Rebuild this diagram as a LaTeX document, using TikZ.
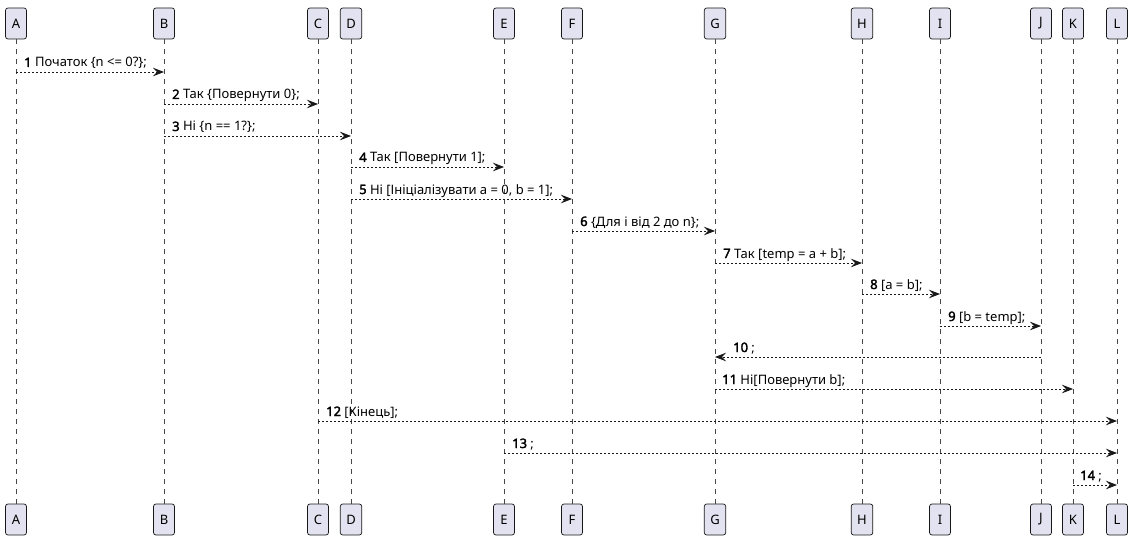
\documentclass[tikz,border=0pt]{standalone}
\usepackage{fontspec}
\setmainfont{Noto Sans}[BoldFont={Noto Sans}, BoldFeatures={FakeBold=2.2}]
\usetikzlibrary{arrows.meta}
\definecolor{pbox}{HTML}{E2E2F0}
\definecolor{pline}{HTML}{181818}
\tikzset{
  part/.style={draw=pline, line width=0.7pt, fill=pbox, rounded corners=2.5pt,
    minimum height=31pt, minimum width=21pt, inner xsep=6pt, inner ysep=0pt,
    font=\fontsize{13}{15}\selectfont, text=black},
  life/.style={draw=pline!80, line width=0.7pt, dash pattern=on 5pt off 5pt},
  msg/.style={draw=pline, line width=0.8pt, dash pattern=on 2pt off 2pt,
    -{Stealth[length=11pt,width=8.5pt,inset=4pt]}},
  lbl/.style={anchor=base west, inner sep=0pt, font=\fontsize{13}{15}\selectfont, text=black}
}
\begin{document}
\begin{tikzpicture}[x=1pt,y=-1pt]
\useasboundingbox (0,0) rectangle (1134,540);
\foreach \n/\x in {A/16,B/164,C/318,D/351,E/504,F/572,G/715,H/862,I/940,J/1041,K/1073,L/1117}{
  \node[part] (\n t) at (\x,23.5) {\n};
  \node[part] (\n b) at (\x,519.5) {\n};
  \draw[life] (\n t.south) -- (\n b.north);
}
\draw[msg] (At |- 0,72) -- (Bt |- 0,72);
\node[lbl] (l1) at (24,67) {\textbf{1} Початок \{n <= 0?\};};
\draw[msg] (Bt |- 0,104) -- (Ct |- 0,104);
\node[lbl] (l2) at (172,99) {\textbf{2} Так \{Повернути 0\};};
\draw[msg] (Bt |- 0,136) -- (Dt |- 0,136);
\node[lbl] (l3) at (172,131) {\textbf{3} Ні \{n == 1?\};};
\draw[msg] (Dt |- 0,167) -- (Et |- 0,167);
\node[lbl] (l4) at (359,162) {\textbf{4} Так [Повернути 1];};
\draw[msg] (Dt |- 0,199) -- (Ft |- 0,199);
\node[lbl] (l5) at (359,194) {\textbf{5} Ні [Ініціалізувати a = 0, b = 1];};
\draw[msg] (Ft |- 0,231) -- (Gt |- 0,231);
\node[lbl] (l6) at (580,226) {\textbf{6} \{Для і від 2 до n\};};
\draw[msg] (Gt |- 0,263) -- (Ht |- 0,263);
\node[lbl] (l7) at (723,258) {\textbf{7} Так [temp = a + b];};
\draw[msg] (Ht |- 0,294) -- (It |- 0,294);
\node[lbl] (l8) at (870,289) {\textbf{8} [a = b];};
\draw[msg] (It |- 0,326) -- (Jt |- 0,326);
\node[lbl] (l9) at (948,321) {\textbf{9} [b = temp];};
\draw[msg] (Jt |- 0,357) -- (Gt |- 0,357);
\node[lbl] (l10) at (733,352) {\textbf{10} ;};
\draw[msg] (Gt |- 0,389) -- (Kt |- 0,389);
\node[lbl] (l11) at (722,384) {\textbf{11} Ні[Повернути b];};
\draw[msg] (Ct |- 0,421) -- (Lt |- 0,421);
\node[lbl] (l12) at (326,416) {\textbf{12} [Кінець];};
\draw[msg] (Et |- 0,453) -- (Lt |- 0,453);
\node[lbl] (l13) at (512,448) {\textbf{13} ;};
\draw[msg] (Kt |- 0,485) -- (Lt |- 0,485);
\node[lbl] (l14) at (1080,480) {\textbf{14} ;};
\end{tikzpicture}
\end{document}
